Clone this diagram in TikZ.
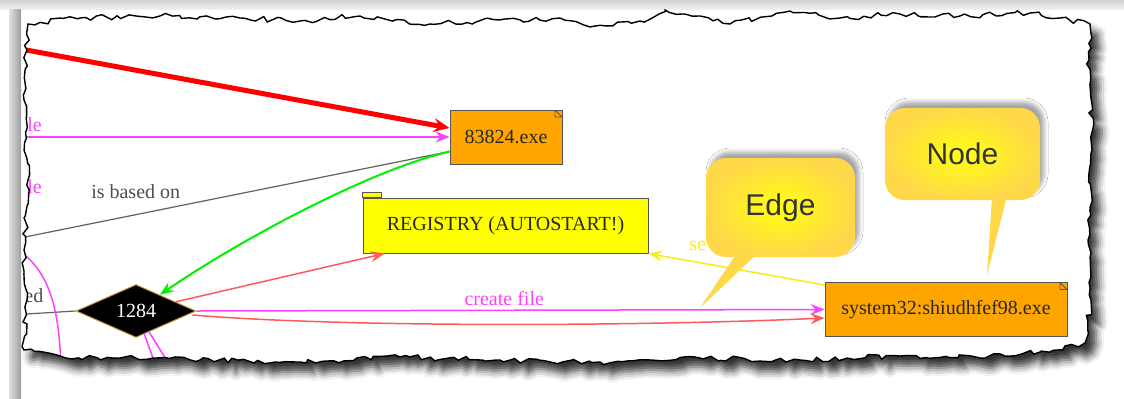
\documentclass[tikz,border=0pt]{standalone}
\usepackage{fontspec}
\setmainfont{Liberation Serif}
\newfontfamily\calloutfont{Liberation Sans}
\usetikzlibrary{
    shapes.geometric,
    arrows.meta,
    positioning,
    decorations.pathmorphing,
    shadows.blur
}
\definecolor{fileorange}{HTML}{FFA500}
\definecolor{regyellow}{HTML}{FFFF00}
\definecolor{nodeborder}{HTML}{555555}
\definecolor{magentaedge}{HTML}{FF40FF}
\definecolor{rededge}{HTML}{FF0000}
\definecolor{softred}{HTML}{FF5A5A}
\definecolor{greenedge}{HTML}{00F000}
\definecolor{grayedge}{HTML}{606060}
\definecolor{yellowedge}{HTML}{F5EE10}
\definecolor{calloutyellow}{HTML}{FFFF10}
\definecolor{notegold}{HTML}{FFD84A}
\definecolor{textdark}{HTML}{333333}
\definecolor{framegray}{HTML}{999999}
\definecolor{pidborder}{HTML}{C9A050}
\tikzset{
    % Torn paper edge
    torn/.style={
        decorate,
        decoration={random steps, segment length=3pt, amplitude=1.4pt}
    },
    paper outline/.style={
        insert path={(28,24) -- (80,18) -- (160,16) -- (240,18) -- (300,21) -- (360,16)
            -- (430,24) -- (500,20) -- (560,18) -- (590,27) -- (640,21) -- (665,10)
            -- (700,16) -- (730,24) -- (790,11) -- (840,18) -- (900,14) -- (960,16)
            -- (1030,13) -- (1060,18) -- (1090,24) -- (1089,60) -- (1092,150)
            -- (1088,240) -- (1091,300) -- (1085,343) -- (1040,352) -- (980,358)
            -- (900,356) -- (800,360) -- (700,358) -- (600,362) -- (500,360)
            -- (400,357) -- (300,362) -- (200,360) -- (120,358) -- (60,356)
            -- (24,350) -- (27,300) -- (24,250) -- (28,180) -- (24,100) -- (27,50) -- cycle}
    },
    % File node style
    file/.style={
        rectangle,
        draw=nodeborder,
        fill=fileorange,
        line width=0.5pt,
        minimum height=27pt,
        inner sep=0pt,
        font=\fontsize{10}{12}\selectfont,
        text=black!85,
        path picture={
            \draw[nodeborder, line width=0.4pt]
                ([xshift=-3.5pt]path picture bounding box.north east) -- ++(0,-3.5pt) -- ++(3.5pt,0)
                ([xshift=-3.5pt]path picture bounding box.north east) -- ++(3.5pt,-3.5pt);
        }
    },
    % Registry folder style
    folder/.style={
        rectangle,
        draw=nodeborder,
        fill=regyellow,
        line width=0.5pt,
        minimum height=27.5pt,
        inner sep=0pt,
        font=\fontsize{10}{12}\selectfont,
        text=black!85
    },
    folder tab/.style={
        draw=nodeborder,
        fill=regyellow,
        line width=0.5pt
    },
    % Process node style
    pid/.style={
        diamond,
        aspect=2.3,
        fill=black,
        draw=pidborder,
        line width=0.5pt,
        minimum width=60pt,
        minimum height=26.5pt,
        inner sep=0.5pt,
        text=white,
        font=\fontsize{10}{12}\selectfont
    },
    % Arrow styles
    flow/.style={
        -{Stealth[length=7pt, width=5.5pt, inset=2.5pt]},
        line width=0.75pt,
        color=#1
    },
    plain/.style={
        line width=0.6pt,
        color=#1
    },
    % Label style
    edge label/.style={
        font=\fontsize{10}{12}\selectfont,
        inner sep=0pt
    },
    % Callout styles
    note body/.style={
        rectangle,
        rounded corners=10pt,
        inner color=calloutyellow,
        outer color=notegold,
        font=\calloutfont\fontsize{15}{18}\selectfont,
        text=textdark,
        blur shadow={shadow xshift=2pt, shadow yshift=3pt, shadow blur radius=2pt, shadow opacity=35}
    },
    note tip/.style={
        fill=notegold
    }
}

\begin{document}
\begin{tikzpicture}[x=0.5pt, y=-0.5pt]
    \useasboundingbox (0,0) rectangle (1124,398);

    % Window frame
    \shade[top color=framegray!45, bottom color=framegray!15] (0,0) rectangle (1124,9);
    \shade[left color=framegray!30, right color=framegray!95] (9,9) rectangle (21,398);

    % Paper with shadow
    \pgfmathsetseed{42}
    \path[torn, fill=white, paper outline,
        blur shadow={shadow xshift=4pt, shadow yshift=-5pt, shadow blur radius=4pt, shadow opacity=80}];

    \begin{scope}
        \pgfmathsetseed{42}
        \clip[torn, paper outline];

        % Loose ends
        \coordinate (redsrc) at (10,47);
        \coordinate (magsrc) at (10,137);
        \coordinate (basesrc) at (10,240);
        \coordinate (graysrc) at (10,315);
        \coordinate (curvesrc) at (18,250);
        \coordinate (curvedst) at (61,372);
        \coordinate (downa) at (158,372);
        \coordinate (downb) at (174,372);

        % Nodes
        \node[file, minimum width=56pt] (exe) at (506,137) {83824.exe};
        \node[folder, minimum width=142.5pt] (reg) at (505.5,225.5) {REGISTRY (AUTOSTART!)};
        \draw[folder tab] (reg.north west) rectangle ++(9.5pt,2.5pt);
        \node[pid] (pid) at (136,311) {1284};
        \node[file, minimum width=121pt] (sys) at (946,309.5) {system32:shiudhfef98.exe};

        % Cut labels at the paper edge
        \node[edge label, text=magentaedge, anchor=west] (cuta) at (27,125) {le};
        \node[edge label, text=magentaedge, anchor=west] (cutb) at (27,187) {le};
        \node[edge label, text=grayedge!80!black, anchor=west] (cutc) at (24,296) {ed};

        % Edges into 83824.exe
        \draw[flow=rededge, line width=2.5pt, -{Stealth[length=8pt, width=7pt, inset=3pt]}]
            (redsrc) -- ([yshift=4.5pt]exe.west);
        \draw[flow=magentaedge] (magsrc) -- (exe.west);
        \draw[plain=grayedge] ([yshift=-7.25pt]exe.west)
            -- node[edge label, text=grayedge!80!black, pos=0.714, yshift=11.5pt] {is based on} (basesrc);
        \draw[flow=greenedge, line width=1pt] ([yshift=-7.25pt]exe.west)
            .. controls (370,170) and (240,240) .. (pid);

        % Edges from 1284
        \draw[flow=softred] (pid) -- ([xshift=11pt]reg.south west);
        \draw[flow=magentaedge] (pid.east)
            -- node[edge label, text=magentaedge, pos=0.49, yshift=6pt] {create file} (sys.west);
        \draw[flow=softred] ([xshift=-2pt, yshift=-2pt]pid.east)
            .. controls (350,328) and (650,326) .. ([yshift=-4.25pt]sys.west);
        \draw[plain=grayedge] (graysrc) -- (pid.west);
        \draw[plain=magentaedge, line width=0.75pt] (pid) -- (downa);
        \draw[plain=magentaedge, line width=0.75pt] (pid) -- (downb);
        \draw[plain=magentaedge, line width=0.75pt] (curvesrc)
            .. controls (45,268) and (60,300) .. (curvedst);

        % Edge into the registry
        \draw[flow=yellowedge] ([yshift=-1.5pt]sys.north west)
            -- node[edge label, text=yellowedge, pos=0.72, yshift=8pt] {se} (reg.south east);
    \end{scope}

    % Paper edge
    \pgfmathsetseed{42}
    \draw[torn, black, line width=0.7pt, paper outline];

    % Callouts
    \coordinate (edgepos) at (780.5,207.5);
    \coordinate (edgetip) at (700,308);
    \fill[note tip] ([xshift=-20pt, yshift=-20pt]edgepos) -- (edgetip) -- ([xshift=-8.5pt, yshift=-20pt]edgepos) -- cycle;
    \node[note body, minimum width=74.5pt, minimum height=49.5pt] (edgenote) at (edgepos) {Edge};

    \coordinate (nodepos) at (962.5,154);
    \coordinate (nodetip) at (987,275);
    \fill[note tip] ([xshift=15pt, yshift=-18pt]nodepos) -- (nodetip) -- ([xshift=23pt, yshift=-18pt]nodepos) -- cycle;
    \node[note body, minimum width=77.5pt, minimum height=46pt] (nodenote) at (nodepos) {Node};

\end{tikzpicture}
\end{document}
